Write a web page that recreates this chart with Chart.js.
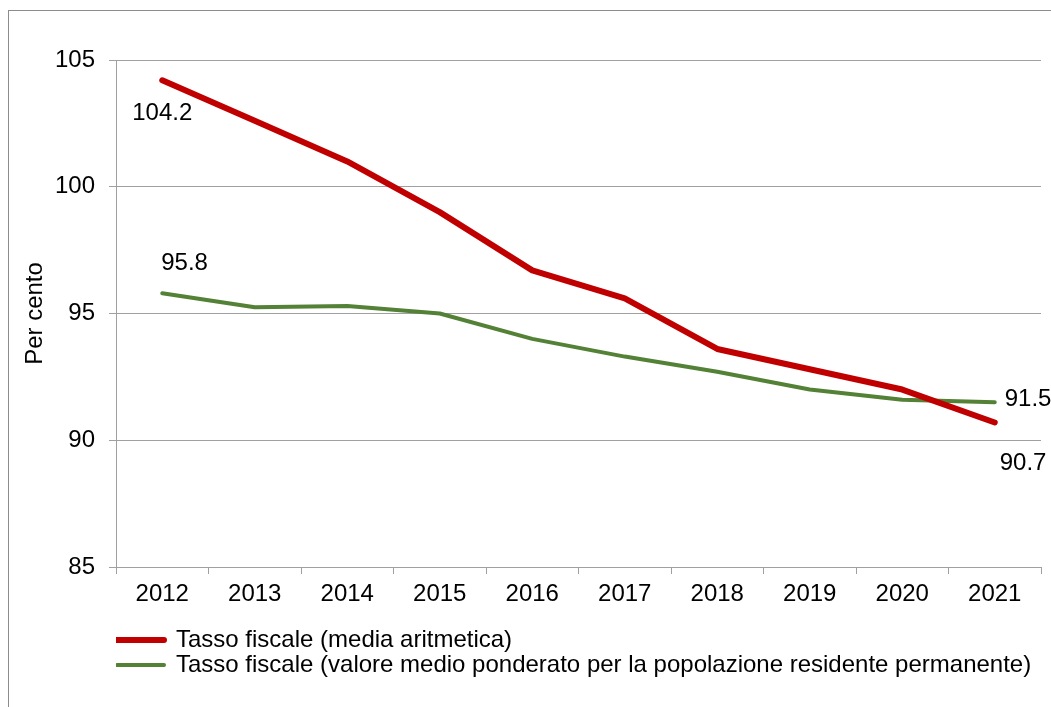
<!DOCTYPE html>
<html>
<head>
<meta charset="utf-8">
<style>
  html, body { margin: 0; padding: 0; background: #fff; overflow: hidden; }
  #frame { position: absolute; left: 8px; top: 10px; width: 1200px; height: 800px;
           border-left: 1px solid #8c8c8c; border-top: 1px solid #8c8c8c; }
  #chart { position: absolute; left: 0; top: 0; }
</style>
<script src="https://cdn.jsdelivr.net/npm/chart.js@4.4.0/dist/chart.umd.min.js"></script>
</head>
<body>
<div id="frame"></div>
<canvas id="chart" width="1051" height="707"></canvas>
<script>
var years = ["2012", "2013", "2014", "2015", "2016", "2017", "2018", "2019", "2020", "2021"];
var mediaAritmetica = [104.2, 102.6, 101.0, 99.0, 96.7, 95.6, 93.6, 92.8, 92.0, 90.7];
var mediaPonderata = [95.8, 95.25, 95.3, 95.0, 94.0, 93.3, 92.7, 92.0, 91.6, 91.5];
var seriesNames = [
    "Tasso fiscale (media aritmetica)",
    "Tasso fiscale (valore medio ponderato per la popolazione residente permanente)"
];
var seriesColors = ["#c00000", "#538135"];

var FONT = "'Liberation Sans', Arial, sans-serif";
var gridGray = "#a0a0a0";

// labels shown only on first and last points, placed like the original
var pointLabels = [
    { ds: 0, i: 0, dx: 0, dy: 33, align: "center" },
    { ds: 0, i: 9, dx: 5, dy: 41, align: "left" },
    { ds: 1, i: 0, dx: -1, dy: -30, align: "left" },
    { ds: 1, i: 9, dx: 10, dy: -3, align: "left" }
];

var labelPlugin = {
    id: "pointLabels",
    afterDatasetsDraw: function (chart) {
        var ctx = chart.ctx;
        ctx.save();
        ctx.font = "24px " + FONT;
        ctx.fillStyle = "#000";
        ctx.textBaseline = "middle";
        pointLabels.forEach(function (l) {
            var pt = chart.getDatasetMeta(l.ds).data[l.i];
            var v = chart.data.datasets[l.ds].data[l.i];
            ctx.textAlign = l.align;
            ctx.fillText(v.toFixed(1), pt.x + l.dx, pt.y + l.dy);
        });
        ctx.restore();
    }
};

new Chart("chart", {
    type: "line",
    data: {
        labels: years,
        datasets: [{
            label: seriesNames[0],
            data: mediaAritmetica,
            borderColor: seriesColors[0],
            backgroundColor: seriesColors[0],
            borderWidth: 6,
            borderCapStyle: "round",
            borderJoinStyle: "round",
            pointRadius: 0,
            tension: 0
        }, {
            label: seriesNames[1],
            data: mediaPonderata,
            borderColor: seriesColors[1],
            backgroundColor: seriesColors[1],
            borderWidth: 4,
            borderCapStyle: "round",
            borderJoinStyle: "round",
            pointRadius: 0,
            tension: 0
        }]
    },
    options: {
        responsive: false,
        animation: false,
        devicePixelRatio: 1,
        layout: { padding: { left: 17, top: 60, right: 10, bottom: 20 } },
        plugins: {
            tooltip: { enabled: false },
            legend: {
                position: "bottom",
                align: "start",
                fullSize: false,
                labels: {
                    usePointStyle: true,
                    pointStyle: "line",
                    pointStyleWidth: 47,
                    padding: 1,
                    color: "#000",
                    font: { family: FONT, size: 24 },
                    generateLabels: function (chart) {
                        var items = Chart.defaults.plugins.legend.labels.generateLabels(chart);
                        items.forEach(function (it) { it.lineCap = "round"; });
                        return items;
                    }
                }
            }
        },
        scales: {
            x: {
                offset: true,
                afterFit: function (s) { s.height = 60; },
                grid: {
                    offset: true,
                    drawOnChartArea: false,
                    drawTicks: true,
                    tickLength: 7,
                    color: gridGray
                },
                border: { color: gridGray },
                ticks: { color: "#000", padding: 6, font: { family: FONT, size: 24 } }
            },
            y: {
                min: 85,
                max: 105,
                afterFit: function (s) { s.width = 99; },
                ticks: { stepSize: 5, color: "#000", padding: 14, font: { family: FONT, size: 24 } },
                grid: { color: gridGray, tickLength: 7 },
                border: { color: gridGray },
                title: {
                    display: true,
                    text: "Per cento",
                    color: "#000",
                    font: { family: FONT, size: 24 }
                }
            }
        }
    },
    plugins: [labelPlugin]
});
</script>
</body>
</html>
